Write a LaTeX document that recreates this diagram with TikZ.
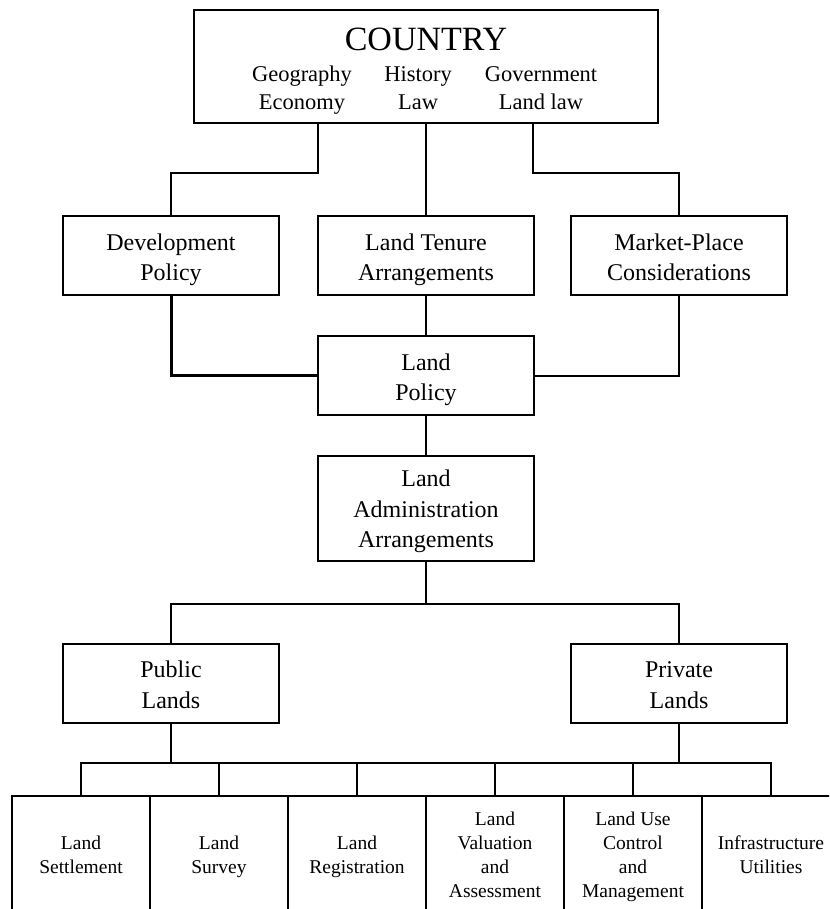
\documentclass[tikz,border=0pt]{standalone}
\usepackage{fontspec}
\setmainfont{Liberation Serif}
\usetikzlibrary{calc}
\usetikzlibrary{math}

\tikzset{
  link/.style={line width=2pt},
  box/.style={draw, line width=2pt, minimum width=216pt, minimum height=79pt,
    inner sep=0pt, align=center, font=\fontsize{24}{30.5}\selectfont,
    text height=55.7pt, text depth=5.5pt},
  taskbox/.style={draw, line width=2pt, minimum width=138pt, minimum height=118pt,
    inner sep=0pt, align=center, font=\fontsize{19.5}{24}\selectfont,
    text depth=5.5pt},
  factor/.style={anchor=base, inner sep=0pt, font=\fontsize{22.5}{28}\selectfont},
}

\begin{document}
\begin{tikzpicture}[x=1pt, y=-1pt]
    \tikzmath {
        \colL = 171;
        \colM = 426;
        \colR = 679;
        \taskW = 138;
    }
    \path[use as bounding box, clip] (0,0) rectangle (829,909);

    % country box with its factors
    \node[draw, line width=2pt, minimum width=464pt, minimum height=113pt] (country) at (\colM, 66.5) {};
    \node[anchor=base, inner sep=0pt, font=\fontsize{34}{40}\selectfont] (country_title) at (\colM, 51) {COUNTRY};
    \node[factor] (geo) at (302, 82) {Geography};
    \node[factor] (hist) at (418, 82) {History};
    \node[factor] (gov) at (541, 82) {Government};
    \node[factor] (econ) at (302, 110) {Economy};
    \node[factor] (law) at (418, 110) {Law};
    \node[factor] (landlaw) at (541, 110) {Land law};

    \node[box] (devpol) at (\colL, 255.5) {Development\\Policy};
    \node[box] (tenure) at (\colM, 255.5) {Land Tenure\\Arrangements};
    \node[box] (market) at (\colR, 255.5) {Market-Place\\Considerations};

    \node[box] (landpol) at (\colM, 375.5) {Land\\Policy};
    \node[box, minimum height=105pt, text height=84.2pt] (landadm) at (\colM, 508.5) {Land\\Administration\\Arrangements};

    \node[box] (public) at (\colL, 683) {Public\\Lands};
    \node[box] (private) at (\colR, 683) {Private\\Lands};

    \foreach \i/\txt/\h in {1/{Land\\Settlement}/42.3, 2/{Land\\Survey}/42.3, 3/{Land\\Registration}/42.3,
        4/{Land\\Valuation\\and\\Assessment}/90.3, 5/{Land Use\\Control\\and\\Management}/90.3,
        6/{Infrastructure\\Utilities}/42.3}
    {
        \node[taskbox, text height=\h pt] (task\i) at ({81 + \taskW * (\i - 1)}, 855) {\txt};
    }

    % connectors
    \coordinate (cty_l) at (318, 173);
    \coordinate (cty_r) at (533, 173);
    \draw[link] (country.south -| cty_l) -- (cty_l) -| (devpol.north);
    \draw[link] (country.south -| cty_r) -- (cty_r) -| (market.north);
    \draw[link] (country.south) -- (tenure.north);

    \draw[link, line width=3pt] (devpol.south) |- (landpol.west);
    \draw[link] (market.south) |- (landpol.east);
    \draw[link] (tenure.south) -- (landpol.north);
    \draw[link] (landpol.south) -- (landadm.north);

    \coordinate (adm_bus) at (\colM, 604);
    \draw[link] (landadm.south) -- (adm_bus);
    \draw[link] (public.north) |- (adm_bus) -| (private.north);

    \coordinate (task_bus) at (\colL, 763);
    \draw[link] (public.south) -- (task_bus);
    \draw[link] (private.south) -- (private.south |- task_bus);
    \draw[link] (task1.north) |- (task_bus) -| (task6.north);
    \foreach \i in {2,...,5}
    {
        \draw[link] (task\i.north) -- (task\i.north |- task_bus);
    }
\end{tikzpicture}
\end{document}
